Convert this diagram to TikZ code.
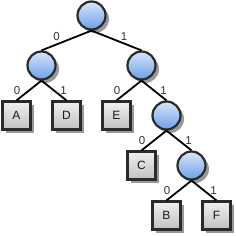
\documentclass[tikz,border=0pt]{standalone}
\usepackage{fontspec}
\setmainfont{Liberation Sans}
\usetikzlibrary{shadows}
\definecolor{edgecol}{HTML}{2A2A2A}
\definecolor{ctop}{HTML}{D6E6FB}
\definecolor{cbot}{HTML}{6E9FE8}
\definecolor{btop}{HTML}{F0F0F0}
\definecolor{bbot}{HTML}{C0C0C0}
\definecolor{lblcol}{HTML}{333333}
\tikzset{
  inner/.style={circle, draw=edgecol, line width=2.2pt, minimum size=28pt, inner sep=0pt,
    top color=ctop, bottom color=cbot,
    drop shadow={shadow xshift=3.5pt, shadow yshift=-3.5pt, fill=black, opacity=0.4}},
  leaf/.style={rectangle, draw=edgecol, line width=2.2pt, minimum size=28pt, inner sep=0pt,
    top color=btop, bottom color=bbot, text=black!90,
    font=\fontsize{12}{12}\selectfont,
    drop shadow={shadow xshift=3.5pt, shadow yshift=-3.5pt, fill=black, opacity=0.4}},
  conn/.style={draw=black, line width=1.8pt},
  lbl/.style={midway, inner sep=0pt, text=lblcol, font=\fontsize{11.5}{11.5}\selectfont}
}
\begin{document}
\begin{tikzpicture}[x=1pt,y=-1pt]
\useasboundingbox (0,0) rectangle (236,236);
\node[inner] (root) at (91.5,15.5) {};
\node[inner] (L) at (41.5,65.5) {};
\node[inner] (R) at (141.5,65.5) {};
\node[leaf] (A) at (16.5,115.5) {A};
\node[leaf] (D) at (66.5,115.5) {D};
\node[leaf] (E) at (116.5,115.5) {E};
\node[inner] (RR) at (166.5,115.5) {};
\node[leaf] (C) at (141.5,165.5) {C};
\node[inner] (RRR) at (191.5,165.5) {};
\node[leaf] (B) at (166.5,215.5) {B};
\node[leaf] (F) at (216.5,215.5) {F};
\draw[conn] (root.south) -- (L.north) node[lbl, xshift=-10pt, yshift=4pt] {0};
\draw[conn] (root.south) -- (R.north) node[lbl, xshift=7.5pt, yshift=3.5pt] {1};
\draw[conn] (L.south) -- (A.north) node[lbl, xshift=-12pt] {0};
\draw[conn] (L.south) -- (D.north) node[lbl, xshift=9.5pt] {1};
\draw[conn] (R.south) -- (E.north) node[lbl, xshift=-12pt] {0};
\draw[conn] (R.south) -- (RR.north) node[lbl, xshift=9.5pt] {1};
\draw[conn] (RR.south) -- (C.north) node[lbl, xshift=-12pt] {0};
\draw[conn] (RR.south) -- (RRR.north) node[lbl, xshift=9.5pt] {1};
\draw[conn] (RRR.south) -- (B.north) node[lbl, xshift=-12pt] {0};
\draw[conn] (RRR.south) -- (F.north) node[lbl, xshift=9.5pt] {1};
\end{tikzpicture}
\end{document}
